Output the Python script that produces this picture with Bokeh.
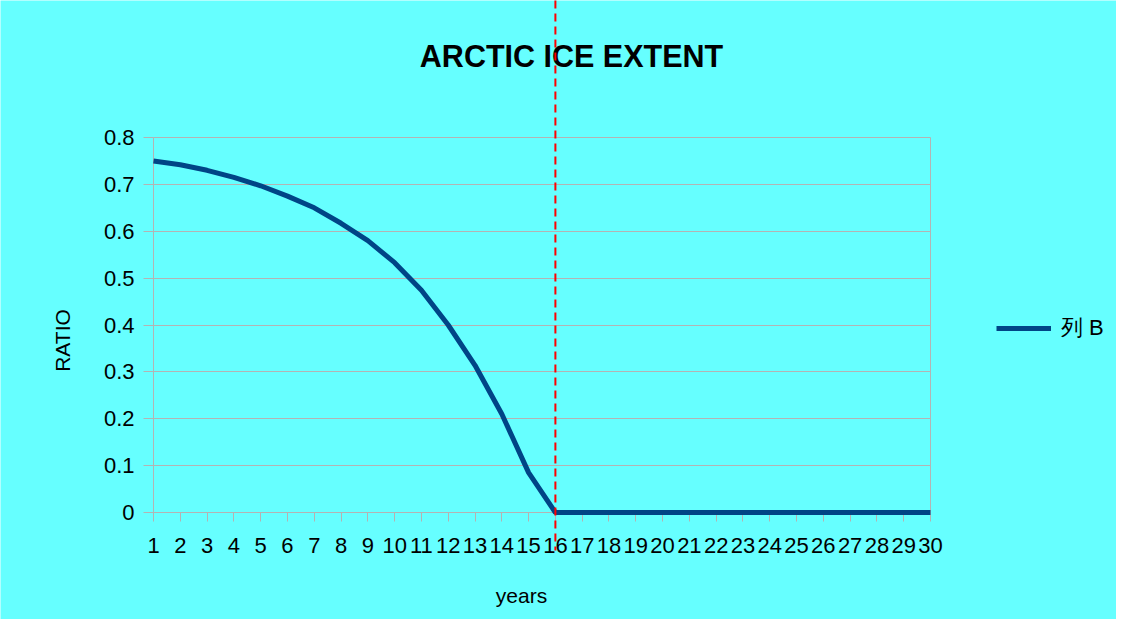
import math
from bokeh.plotting import figure
from bokeh.models import (Range1d, FixedTicker, CustomJSTickFormatter, Legend,
                          LegendItem, Label, LinearAxis)
from bokeh.embed import file_html
from bokeh.resources import INLINE

# ---- data ----
years = [1, 2, 3, 4, 5, 6, 7, 8, 9, 10, 11, 12, 13, 14, 15,
         16, 17, 18, 19, 20, 21, 22, 23, 24, 25, 26, 27, 28, 29, 30]
ratio = [0.75, 0.742, 0.73, 0.715, 0.697, 0.675, 0.65, 0.617, 0.58, 0.533,
         0.474, 0.40, 0.314, 0.21, 0.085, 0.0, 0.0, 0.0, 0.0, 0.0,
         0.0, 0.0, 0.0, 0.0, 0.0, 0.0, 0.0, 0.0, 0.0, 0.0]
y_ticks = [0, 0.1, 0.2, 0.3, 0.4, 0.5, 0.6, 0.7, 0.8]
series_name = "列 B"
cutoff_year = 16
title_text = "ARCTIC ICE EXTENT"
x_label = "years"
y_label = "RATIO"

# ---- layout (pixels) ----
W, H = 1116, 619
PLOT_LEFT, PLOT_RIGHT = 153, 930        # value area, horizontally
PLOT_TOP, PLOT_BOTTOM = 137, 512        # value area, vertically
MARKER_BOTTOM = 550                     # where the red dashed line ends
px_per_year = (PLOT_RIGHT - PLOT_LEFT) / (years[-1] - years[0])
px_per_unit = (PLOT_BOTTOM - PLOT_TOP) / (y_ticks[-1] - y_ticks[0])
x_start = years[0] - PLOT_LEFT / px_per_year
x_end = years[-1] + (W - PLOT_RIGHT) / px_per_year
y_start = y_ticks[0] - (H - PLOT_BOTTOM) / px_per_unit
y_end = y_ticks[0] + PLOT_BOTTOM / px_per_unit
marker_bottom = y_ticks[0] - (MARKER_BOTTOM - PLOT_BOTTOM) / px_per_unit

BG = "#66FFFF"
GRID = "#b3b3b3"
FONT = "Liberation Sans"

p = figure(width=W, height=H, output_backend="svg", toolbar_location=None, title=None,
           x_range=Range1d(x_start, x_end), y_range=Range1d(y_start, y_end),
           x_axis_location=None, y_axis_location=None,
           min_border_left=0, min_border_right=0,
           min_border_top=0, min_border_bottom=0)
p.background_fill_color = BG
p.border_fill_color = BG
p.outline_line_color = None

# x axis drawn at y = 0, y axis drawn at the first year
xaxis = LinearAxis(fixed_location=y_ticks[0], bounds=(years[0], years[-1]),
                   ticker=FixedTicker(ticks=years))
yaxis = LinearAxis(fixed_location=years[0], bounds=(y_ticks[0], y_ticks[-1]),
                   ticker=FixedTicker(ticks=y_ticks),
                   formatter=CustomJSTickFormatter(code="return String(Math.round(tick*10)/10)"))
for ax in (xaxis, yaxis):
    ax.axis_line_color = GRID
    ax.major_tick_line_color = GRID
    ax.minor_tick_line_color = None
    ax.major_tick_in = 0
    ax.major_label_text_font = FONT
    ax.major_label_text_font_size = "22px"
    ax.major_label_text_color = "black"

xaxis.major_tick_out = 9
xaxis.major_label_standoff = 16
yaxis.major_tick_out = 10
yaxis.major_label_standoff = 9

p.add_layout(xaxis, "below")
p.add_layout(yaxis, "left")

# axis titles
p.add_layout(Label(x=521, y=H - 595, x_units="screen", y_units="screen",
                   text=x_label, text_align="center", text_baseline="middle",
                   text_font=FONT, text_font_size="21px", text_color="black"))
p.add_layout(Label(x=62, y=H - 340, x_units="screen", y_units="screen",
                   text=y_label, text_align="center", text_baseline="middle",
                   angle=math.pi / 2,
                   text_font=FONT, text_font_size="21px", text_color="black"))

# horizontal grid lines, limited to the value area
p.ygrid.ticker = FixedTicker(ticks=y_ticks)
p.ygrid.grid_line_color = GRID
p.ygrid.cross_bounds = (years[0], years[-1])
# right border of the value area
p.xgrid.ticker = FixedTicker(ticks=[years[-1]])
p.xgrid.grid_line_color = GRID
p.xgrid.cross_bounds = (y_ticks[0], y_ticks[-1])

# series line (above the axis line)
r = p.line(years, ratio, line_color="#004586", line_width=5, level="overlay")

# red dashed marker at the cut-off year
p.segment(x0=[cutoff_year], y0=[y_end], x1=[cutoff_year], y1=[marker_bottom],
          line_color="#ff0000", line_width=2, line_dash="8 5", level="overlay")

# title
p.add_layout(Label(x=571, y=H - 55, x_units="screen", y_units="screen",
                   text=title_text, text_align="center", text_baseline="middle",
                   text_font=FONT, text_font_size="30.5px", text_font_style="bold",
                   text_color="black"))

legend = Legend(items=[LegendItem(label=series_name, renderers=[r])],
                location=(996, H - 343), padding=5, margin=0,
                glyph_width=55, glyph_height=20, label_standoff=10,
                border_line_color=None, background_fill_alpha=0,
                label_text_font=FONT, label_text_font_size="22px",
                label_text_color="black")
p.add_layout(legend, "center")

open("out.html", "w").write(file_html(p, INLINE))
